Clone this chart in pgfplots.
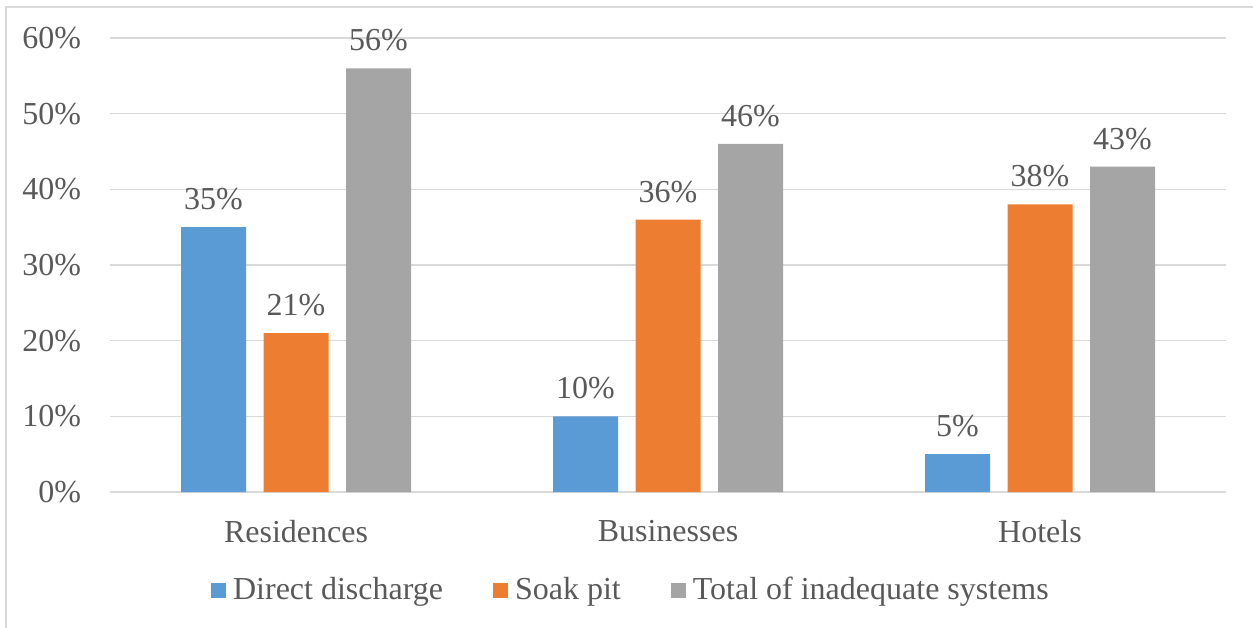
\documentclass[border=0pt]{standalone}
\usepackage{fontspec}
\setmainfont{Liberation Serif}
\usepackage{pgfplots}
\pgfplotsset{compat=1.18}

\definecolor{txt}{HTML}{595959}
\definecolor{gridc}{HTML}{D9D9D9}
\definecolor{cblue}{HTML}{5B9BD5}
\definecolor{corange}{HTML}{ED7D31}
\definecolor{cgray}{HTML}{A5A5A5}

\pgfplotsset{
  sq legend/.style={legend image code/.code={\fill[##1,draw=none] (0pt,-3.75pt) rectangle (7.5pt,3.75pt);}}
}

\begin{document}
\begin{tikzpicture}
\path[use as bounding box] (0,0) rectangle (626.5pt,313.5pt);
\draw[gridc, line width=1pt] (3pt,-2pt) -- (3pt,310pt) -- (630pt,310pt);
\begin{axis}[
  at={(55pt,67.5pt)}, anchor=south west,
  scale only axis, width=558pt, height=227pt,
  ybar, bar width=32.5pt,
  xmin=-0.5, xmax=2.5, ymin=0, ymax=60,
  axis line style={draw=none},
  ymajorgrids, grid style={gridc, line width=0.75pt},
  xtick={0,1,2}, xticklabels={Residences,Businesses,Hotels},
  ytick={0,10,...,60},
  yticklabel={\pgfmathprintnumber{\tick}\%},
  /pgf/number format/assume math mode=true,
  major tick length=0pt,
  tick label style={font=\fontsize{16}{19}\selectfont, text=txt},
  yticklabel style={anchor=east, xshift=-11pt},
  xticklabel style={anchor=north, yshift=-10.5pt},
  clip=false,
  nodes near coords={\pgfmathprintnumber{\pgfplotspointmeta}\%},
  nodes near coords style={font=\fontsize{16}{19}\selectfont, text=txt, anchor=south, yshift=5pt},
  legend columns=3,
  legend style={at={(0.4677,-0.2159)}, anchor=center, draw=none, fill=none,
    font=\fontsize{16}{19}\selectfont, text=txt,
    /tikz/every odd column/.append style={column sep=1.5pt},
    /tikz/every even column/.append style={column sep=23pt}},
  legend cell align=left,
]
\addplot[bar shift=-41.25pt, fill=cblue, draw=none, sq legend]
  coordinates {(0,35) (1,10) (2,5)};
\addplot[bar shift=0pt, fill=corange, draw=none, sq legend]
  coordinates {(0,21) (1,36) (2,38)};
\addplot[bar shift=41.25pt, fill=cgray, draw=none, sq legend]
  coordinates {(0,56) (1,46) (2,43)};
\legend{Direct discharge, Soak pit, Total of inadequate systems}
\end{axis}
\end{tikzpicture}
\end{document}
